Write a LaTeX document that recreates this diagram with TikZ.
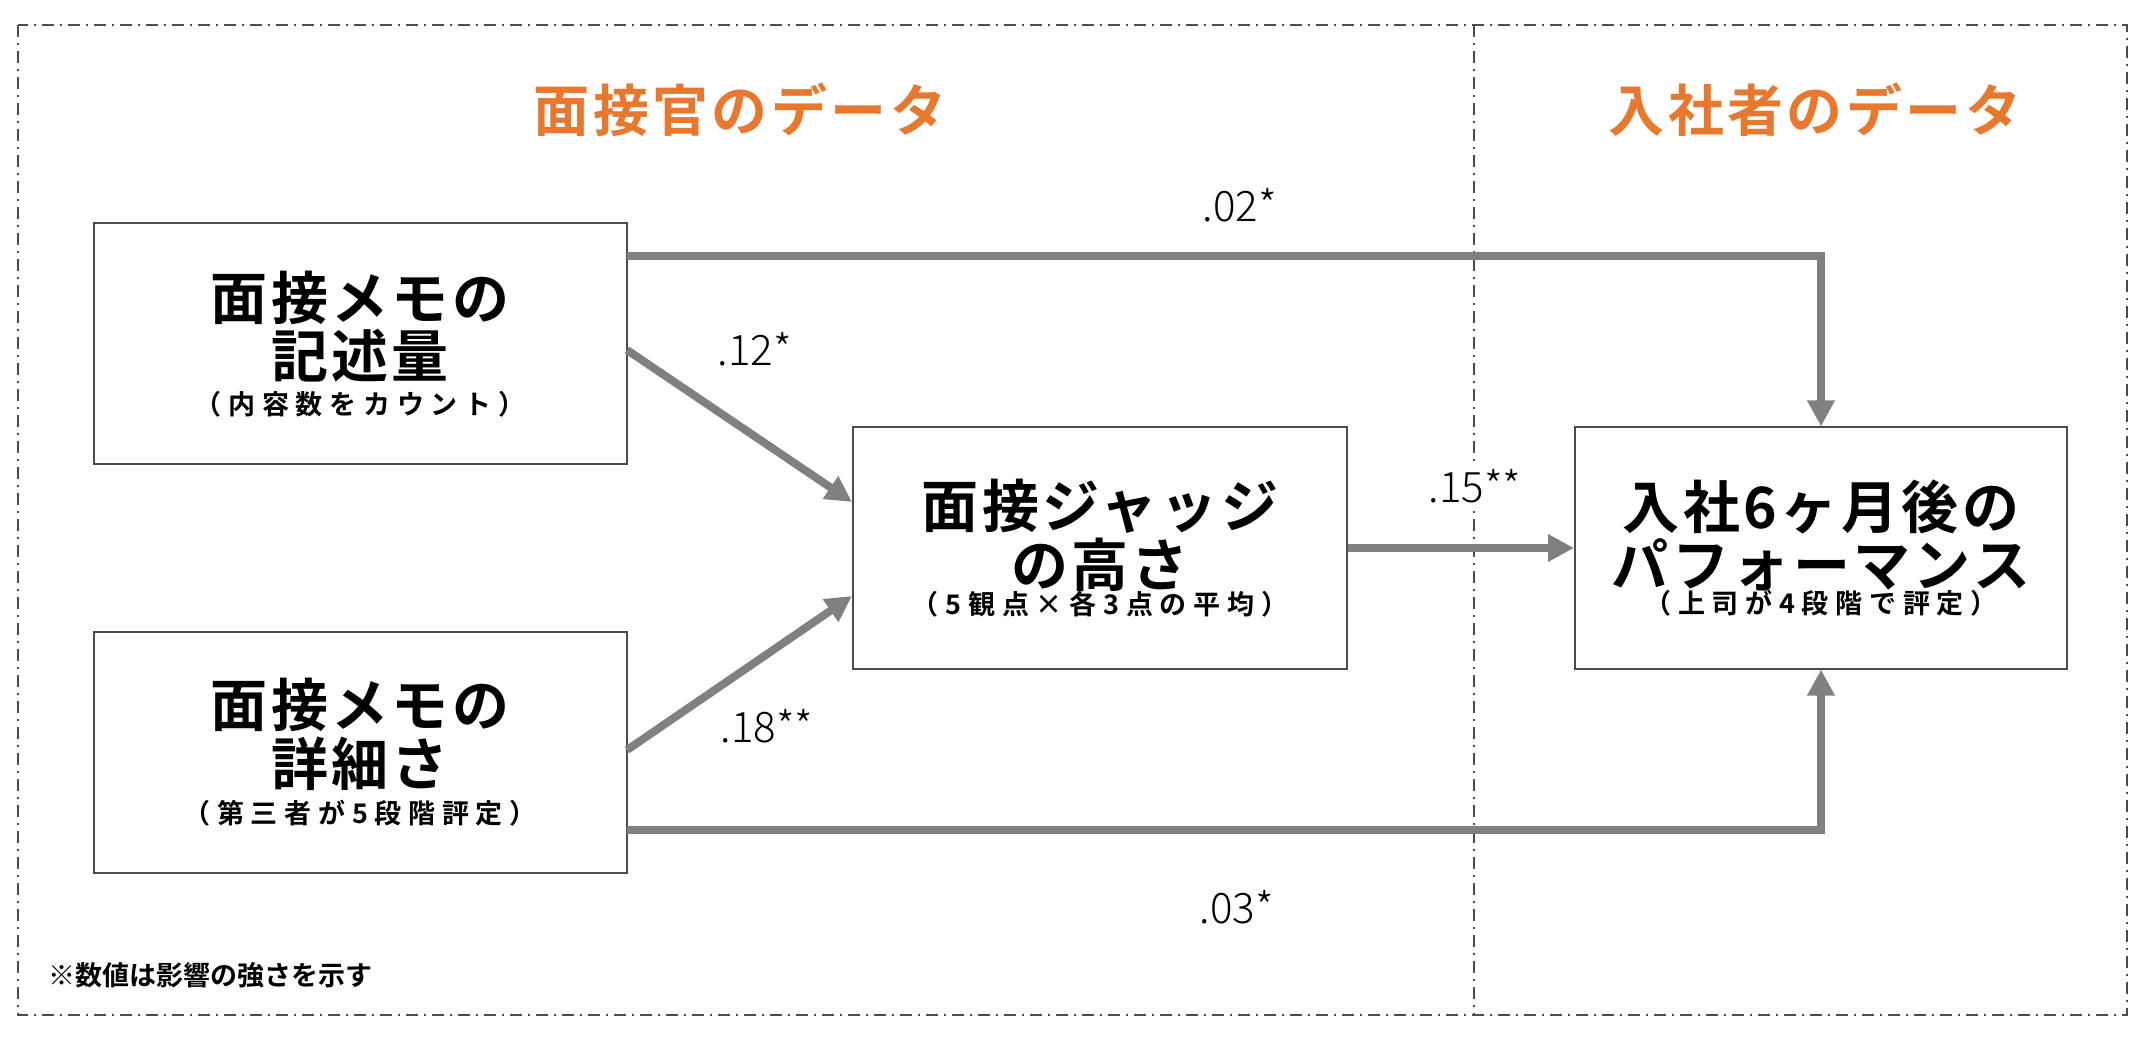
\documentclass[tikz,border=0pt]{standalone}
\usepackage{fontspec}
\setmainfont{Noto Sans CJK JP}
\newfontfamily\jpb{Noto Sans CJK JP Bold}
\newfontfamily\jpbm{Noto Sans CJK JP Bold}[LetterSpace=6]
\newfontfamily\jpbs{Noto Sans CJK JP Bold}[LetterSpace=25]
\newfontfamily\numf{Noto Sans CJK JP Light}
\usetikzlibrary{arrows.meta}
\definecolor{orng}{HTML}{E8782E}
\definecolor{arr}{HTML}{808080}
\tikzset{
 box/.style={draw=black!70,line width=2pt,minimum width=533pt,minimum height=241pt,align=center,inner sep=0pt},
 con/.style={draw=arr,line width=8pt,-{Triangle[length=26pt,width=26pt]}},
 coef/.style={font=\numf\fontsize{42}{46}\selectfont},
 frame/.style={draw=black!70,line width=2pt,dash pattern=on 12pt off 6pt on 2pt off 6pt},
 ttl/.style={text=orng,font=\jpbm\fontsize{56}{60}\selectfont},
}
\newcommand{\mainf}{\jpbm\fontsize{57}{66}\selectfont}
\newcommand{\subf}{\jpbs\fontsize{27}{34}\selectfont}
\begin{document}
\begin{tikzpicture}[x=1pt,y=-1pt]
\useasboundingbox (0,0) rectangle (2148,1040);
\draw[frame] (18,25) rectangle (2127,1015);
\coordinate (dt) at (1474,25);
\coordinate (db) at (1474,1015);
\draw[frame] (dt) -- (db);
\node[ttl] (t1) at (740,110) {面接官のデータ};
\node[ttl] (t2) at (1815,110) {入社者のデータ};
\node[box] (a) at (360,344) {\mainf 面接メモの\\[4pt]\mainf 記述量\\[8pt]\subf （内容数をカウント）};
\node[box] (b) at (360,752) {\mainf 面接メモの\\[4pt]\mainf 詳細さ\\[8pt]\subf （第三者が5段階評定）};
\node[box,minimum width=494pt] (c) at (1100,548) {\mainf 面接ジャッジ\\[4pt]\mainf の高さ\\[-2pt]\subf （5観点×各3点の平均）};
\node[box,minimum width=492pt] (d) at (1821,548) {\mainf 入社6ヶ月後の\\[4pt]\mainf パフォーマンス\\[-2pt]\subf （上司が4段階で評定）};
\coordinate (a1) at (627,256);
\coordinate (a2) at (627,350);
\coordinate (b1) at (627,830);
\coordinate (b2) at (627,750);
\coordinate (c1) at (852,502);
\coordinate (c2) at (852,596);
\draw[con] (a1) -| (d.north);
\draw[con] (b1) -| (d.south);
\draw[con] (a2) -- (c1);
\draw[con] (b2) -- (c2);
\draw[con] (c.east) -- (d.west);
\node[coef] (l1) at (1240,205) {.02*};
\node[coef] (l2) at (755,349) {.12*};
\node[coef] (l3) at (767,726) {.18**};
\node[coef,fill=white,inner sep=2pt] (l4) at (1475,486) {.15**};
\node[coef] (l5) at (1237,907) {.03*};
\node[anchor=west,font=\jpb\fontsize{27}{30}\selectfont] (n) at (45,975) {※数値は影響の強さを示す};
\end{tikzpicture}
\end{document}
